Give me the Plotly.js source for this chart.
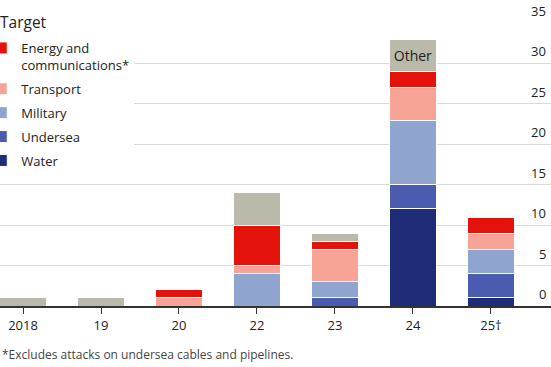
<!DOCTYPE html>
<html>
<head>
<meta charset="utf-8">
<script src="https://cdn.plot.ly/plotly-3.0.1.min.js"></script>
<style>html,body{margin:0;padding:0;background:#fff;}#chart{width:551px;height:367px;}</style>
</head>
<body>
<div id="chart"></div>
<script>
const categories = ['2018', '19', '20', '22', '23', '24', '25†'];
const water     = [0, 0, 0, 0, 0, 12, 1];
const undersea  = [0, 0, 0, 0, 1, 3, 3];
const military  = [0, 0, 0, 4, 2, 8, 3];
const transport = [0, 0, 1, 1, 4, 4, 2];
const energy    = [0, 0, 1, 5, 1, 2, 2];
const other     = [1, 1, 0, 4, 1, 4, 0];
const otherText = ['', '', '', '', '', 'Other', ''];
const yTicks = [0, 5, 10, 15, 20, 25, 30, 35];

const FONT = 'Open Sans, sans-serif';
const colors = {
  water: '#1f2d78', undersea: '#4b5cb0', military: '#8fa4cf',
  transport: '#f7a497', energy: '#e3120b', other: '#bbb9aa'
};
function bar(name, y, color, show, group, rank) {
  return {
    type: 'bar', x: categories, y: y, name: name,
    marker: {color: color, line: {color: '#ffffff', width: 1}},
    showlegend: show, legendgroup: group, legendrank: rank, width: 0.6,
    hoverinfo: 'none'
  };
}
const traces = [
  bar('Water', water, colors.water, true, 'g5', 5),
  bar('Undersea', undersea, colors.undersea, true, 'g4', 4),
  bar('Military', military, colors.military, true, 'g3', 3),
  bar('Transport', transport, colors.transport, true, 'g2', 2),
  bar('Energy and<br>communications*', energy, colors.energy, true, 'g1', 1),
  Object.assign(bar('Other', other, colors.other, false, 'g0', 6), {
    text: otherText, textposition: 'inside', insidetextanchor: 'middle',
    constraintext: 'none', textangle: 0,
    textfont: {family: FONT, size: 14, color: '#222222'}
  })
];

const yLabelAnnotations = yTicks.map(v => ({
  xref: 'paper', yref: 'y', x: 1, y: v, xanchor: 'right', yanchor: 'bottom',
  yshift: 1, xshift: -3, text: String(v), showarrow: false,
  font: {family: FONT, size: 13, color: '#222222'}
}));

const layout = {
  width: 551, height: 367,
  margin: {l: 0, r: 0, t: 23, b: 61, autoexpand: false},
  paper_bgcolor: '#ffffff', plot_bgcolor: '#ffffff',
  barmode: 'stack', bargap: 0.4,
  font: {family: FONT, size: 13, color: '#222222'},
  xaxis: {
    type: 'category', range: [-0.295, 6.77],
    showgrid: false, showline: true, linecolor: '#333333', linewidth: 2,
    ticks: 'outside', ticklen: 6, tickcolor: '#333333', tickwidth: 1,
    tickfont: {family: FONT, size: 13, color: '#222222'}, fixedrange: true
  },
  yaxis: {
    side: 'right', range: [0, 35], tickvals: yTicks, showticklabels: false,
    showgrid: true, gridcolor: '#d9d9d9', gridwidth: 1, zeroline: false,
    showline: false, ticks: '', fixedrange: true
  },
  legend: {
    xref: 'paper', yref: 'paper', x: -0.034, y: (306 - 33) / 283,
    xanchor: 'left', yanchor: 'top', traceorder: 'grouped',
    bgcolor: '#ffffff', borderwidth: 0, valign: 'top',
    font: {family: FONT, size: 13, color: '#222222'},
    itemwidth: 30, tracegroupgap: 4
  },
  annotations: [{
    xref: 'paper', yref: 'paper', x: 0, y: -0.17, xanchor: 'left', yanchor: 'middle',
    text: '*Excludes attacks on undersea cables and pipelines.', showarrow: false,
    font: {family: FONT, size: 12, color: '#444444'}
  }, {
    xref: 'paper', yref: 'paper', x: 0, y: (306 - 22) / 283, xanchor: 'left', yanchor: 'middle',
    xshift: -2, text: 'Target', showarrow: false, bgcolor: '#ffffff',
    font: {family: FONT, size: 15.5, color: '#222222'}
  }].concat(yLabelAnnotations)
};
Plotly.newPlot('chart', traces, layout, {displayModeBar: false, staticPlot: true});
</script>
</body>
</html>
